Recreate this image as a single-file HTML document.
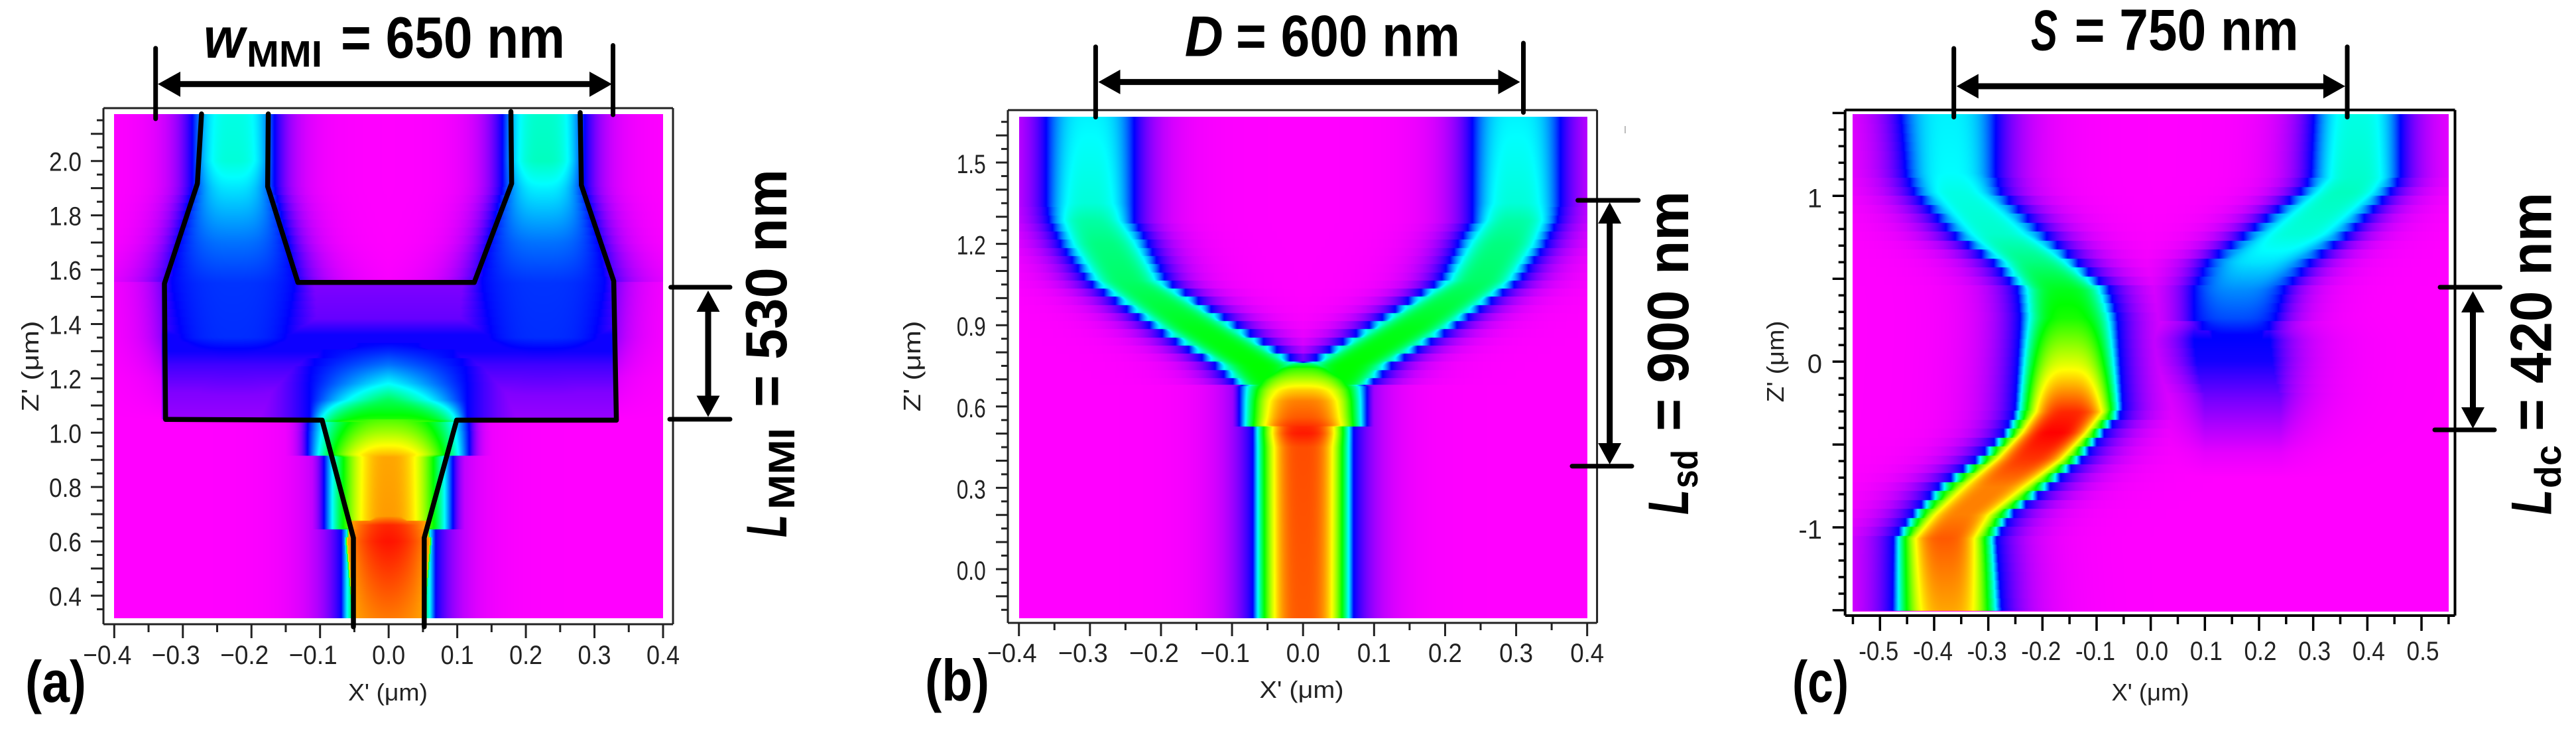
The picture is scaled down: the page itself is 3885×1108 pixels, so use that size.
<!DOCTYPE html>
<html lang="en">
<head>
<meta charset="utf-8">
<title>Waveguide field intensity maps</title>
<style>
html,body{margin:0;padding:0;background:#fff;}
#stage{position:relative;width:3885px;height:1108px;overflow:hidden;background:#fff;}
canvas{position:absolute;display:block;}
svg{position:absolute;left:0;top:0;}
text{font-family:"Liberation Sans",sans-serif;}
.big{font-weight:700;font-size:88px;fill:#000;}
.bigi{font-weight:700;font-style:italic;font-size:86px;fill:#000;}
.sub{font-weight:700;font-size:56px;fill:#000;}
.tick{font-size:40px;fill:#222;}
.title{font-size:36px;fill:#222;}
.dim{stroke:#000;stroke-width:7;stroke-linecap:round;fill:none;}
.shaft{stroke:#000;stroke-width:9;fill:none;}
</style>
</head>
<body>
<div id="stage">
<canvas id="heatmap-a"></canvas>
<canvas id="heatmap-b"></canvas>
<canvas id="heatmap-c"></canvas>
<svg id="overlay" width="3885" height="1108" viewBox="0 0 3885 1108">
  <g id="axes"></g>
  <g id="outline"></g>

  <g>
    <text x="307" y="87" class="bigi" textLength="62" lengthAdjust="spacingAndGlyphs">w</text>
    <text x="372" y="100.7" class="sub" textLength="114" lengthAdjust="spacingAndGlyphs">MMI</text>
    <text x="514" y="87" class="big" textLength="338" lengthAdjust="spacingAndGlyphs">= 650 nm</text>
    <line class="dim" x1="234.7" y1="72.7" x2="234.7" y2="179"/>
    <line class="dim" x1="924.5" y1="68.5" x2="924.5" y2="173"/>
    <line class="shaft" x1="268" y1="126.7" x2="893" y2="126.7"/>
    <polygon points="238,126.7 272,108 272,146"/>
    <polygon points="923,126.7 889,108 889,146"/>
  </g>
  <g>
    <line class="dim" x1="1011.6" y1="433" x2="1101" y2="433"/>
    <line class="dim" x1="1010" y1="632" x2="1101" y2="632"/>
    <line class="shaft" x1="1068" y1="465" x2="1068" y2="600"/>
    <polygon points="1068,438 1050.5,470 1085.5,470"/>
    <polygon points="1068,628.5 1050.5,596.5 1085.5,596.5"/>
    <text transform="translate(1186,810) rotate(-90)" class="bigi" textLength="34" lengthAdjust="spacingAndGlyphs">L</text>
    <text transform="translate(1198,768) rotate(-90)" class="sub" textLength="123" lengthAdjust="spacingAndGlyphs">MMI</text>
    <text transform="translate(1186,614) rotate(-90)" class="big" textLength="359" lengthAdjust="spacingAndGlyphs">= 530 nm</text>
  </g>
  <text x="38" y="1058" class="big" textLength="92" lengthAdjust="spacingAndGlyphs">(a)</text>

  <g>
    <text x="1786.7" y="84.7" class="bigi" textLength="58" lengthAdjust="spacingAndGlyphs">D</text>
    <text x="1864" y="84.7" class="big" textLength="338" lengthAdjust="spacingAndGlyphs">= 600 nm</text>
    <line class="dim" x1="1652.4" y1="70.6" x2="1652.4" y2="176.5"/>
    <line class="dim" x1="2297.5" y1="65" x2="2297.5" y2="169.5"/>
    <line class="shaft" x1="1685" y1="123.6" x2="2264" y2="123.6"/>
    <polygon points="1656.5,123.6 1689.5,105 1689.5,142"/>
    <polygon points="2292.5,123.6 2259.5,105 2259.5,142"/>
  </g>
  <g>
    <line class="dim" x1="2379.6" y1="302" x2="2470.8" y2="302"/>
    <line class="dim" x1="2371" y1="702.7" x2="2461" y2="702.7"/>
    <line class="shaft" x1="2427.7" y1="332" x2="2427.7" y2="672"/>
    <polygon points="2427.7,305 2410.2,337 2445.2,337"/>
    <polygon points="2427.7,700 2410.2,668 2445.2,668"/>
    <text transform="translate(2546,776) rotate(-90)" class="bigi" textLength="38" lengthAdjust="spacingAndGlyphs">L</text>
    <text transform="translate(2560,736) rotate(-90)" class="sub" textLength="58" lengthAdjust="spacingAndGlyphs">sd</text>
    <text transform="translate(2546,650) rotate(-90)" class="big" textLength="362" lengthAdjust="spacingAndGlyphs">= 900 nm</text>
  </g>
  <text x="1395" y="1056" class="big" textLength="97" lengthAdjust="spacingAndGlyphs">(b)</text>
  <line x1="2451" y1="190" x2="2451" y2="201" stroke="#bbb" stroke-width="2"/>

  <g>
    <text x="3063" y="75.6" class="bigi" textLength="40" lengthAdjust="spacingAndGlyphs">S</text>
    <text x="3128.7" y="75.6" class="big" textLength="338" lengthAdjust="spacingAndGlyphs">= 750 nm</text>
    <line class="dim" x1="2946.7" y1="73" x2="2946.7" y2="176.5"/>
    <line class="dim" x1="3540" y1="70.6" x2="3540" y2="176.5"/>
    <line class="shaft" x1="2980" y1="130" x2="3508" y2="130"/>
    <polygon points="2950.8,130 2983.8,111.5 2983.8,148.5"/>
    <polygon points="3536.9,130 3503.9,111.5 3503.9,148.5"/>
  </g>
  <g>
    <line class="dim" x1="3680" y1="433" x2="3770.5" y2="433"/>
    <line class="dim" x1="3672" y1="648" x2="3762" y2="648"/>
    <line class="shaft" x1="3729.5" y1="466" x2="3729.5" y2="618"/>
    <polygon points="3729.5,439 3712,471 3747,471"/>
    <polygon points="3729.5,646 3712,614 3747,614"/>
    <text transform="translate(3847.5,776) rotate(-90)" class="bigi" textLength="38" lengthAdjust="spacingAndGlyphs">L</text>
    <text transform="translate(3862,736) rotate(-90)" class="sub" textLength="65" lengthAdjust="spacingAndGlyphs">dc</text>
    <text transform="translate(3847.5,650) rotate(-90)" class="big" textLength="360" lengthAdjust="spacingAndGlyphs">= 420 nm</text>
  </g>
  <text x="2703" y="1058" class="big" textLength="85" lengthAdjust="spacingAndGlyphs">(c)</text>
</svg>
</div>

<script>
// ---------- Tick labels ----------
const aXTickValues = [-0.4, -0.3, -0.2, -0.1, 0.0, 0.1, 0.2, 0.3, 0.4];
const aXTickLabels = ['−0.4', '−0.3', '−0.2', '−0.1', '0.0', '0.1', '0.2', '0.3', '0.4'];
const aZTickValues = [0.4, 0.6, 0.8, 1.0, 1.2, 1.4, 1.6, 1.8, 2.0];
const aZTickLabels = ['0.4', '0.6', '0.8', '1.0', '1.2', '1.4', '1.6', '1.8', '2.0'];
const bXTickValues = [-0.4, -0.3, -0.2, -0.1, 0.0, 0.1, 0.2, 0.3, 0.4];
const bXTickLabels = ['−0.4', '−0.3', '−0.2', '−0.1', '0.0', '0.1', '0.2', '0.3', '0.4'];
const bZTickValues = [0.0, 0.3, 0.6, 0.9, 1.2, 1.5];
const bZTickLabels = ['0.0', '0.3', '0.6', '0.9', '1.2', '1.5'];
const cXTickValues = [-0.5, -0.4, -0.3, -0.2, -0.1, 0.0, 0.1, 0.2, 0.3, 0.4, 0.5];
const cXTickLabels = ['-0.5', '-0.4', '-0.3', '-0.2', '-0.1', '0.0', '0.1', '0.2', '0.3', '0.4', '0.5'];
const cZTickValues = [-1, 0, 1];
const cZTickLabels = ['-1', '0', '1'];

// ---------- Colour scale (normalised intensity) ----------
const scaleStops = [0, 0.2, 0.4, 0.6, 0.8, 1];
const scaleReds = [255, 0, 0, 0, 255, 255];
const scaleGreens = [0, 0, 255, 255, 255, 0];
const scaleBlues = [255, 255, 255, 0, 0, 0];

// ---------- Panel (a): MMI splitter field ----------
const aInputZ = [0.3, 0.645, 0.65, 0.91, 0.92, 1.0, 1.05];
const aInputHalf = [0.069, 0.069, 0.094, 0.094, 0.118, 0.118, 0.117];
const aInputPeak = [0.89, 0.88, 0.88, 0.87, 0.85, 0.73, 0.66];
const aHotZ = [0.3, 0.6, 0.66, 0.69];
const aHotHalf = [0.05, 0.06, 0.055, 0.02];
const aHotPeak = [0.9, 0.985, 0.97, 0.89];
const aHotEdge = [0.87, 0.87, 0.87, 0.87];
const aTailZ = [0.3, 1.05];
const aTailHalf = [0.068, 0.068];
const aCapZ = [1.04, 1.05, 1.12, 1.18, 1.25, 1.3, 1.33];
const aCapHalf = [0.115, 0.115, 0.115, 0.115, 0.112, 0.09, 0.02];
const aCapPeak = [0.66, 0.62, 0.53, 0.4, 0.29, 0.23, 0.2];
const aCapSharpness = [5, 4, 1.4, 1.2, 1.2, 1.2, 1.2];
const aFloorZ = [1.05, 1.15, 1.25, 1.3, 1.36, 1.42, 1.55];
const aFloorLevel = [0.08, 0.1, 0.15, 0.19, 0.19, 0.12, 0.1];
const aArmZ = [1.1, 1.25, 1.35, 1.55, 1.7, 1.9, 2.0, 2.18];
const aArmHalf = [0.05, 0.06, 0.075, 0.09, 0.08, 0.06, 0.06, 0.06];
const aArmEdge = [0.08, 0.14, 0.2, 0.2, 0.2, 0.2, 0.2, 0.2];
const aArmTail = [0.1, 0.1, 0.1, 0.04, 0.028, 0.025, 0.025, 0.025];
const aLeftArmPeak = [0.08, 0.15, 0.235, 0.24, 0.29, 0.38, 0.43, 0.42];
const aRightArmPeak = [0.08, 0.15, 0.235, 0.24, 0.29, 0.39, 0.45, 0.44];
const aArmOffset = 0.226;
const aBodyHalf = 0.33;
const aBodyZ = [1.04, 1.555];
const aLeakZ = [1.05, 1.2, 1.35, 1.55];
const aLeakLevel = [0, 0.03, 0.09, 0.11];

// Panel (a): drawn waveguide outline (micrometres)
const aOutlineLeftX = [-0.2728, -0.2788, -0.3268, -0.3252, -0.0970, -0.0514, -0.0514];
const aOutlineLeftZ = [2.173, 1.917, 1.549, 1.049, 1.046, 0.613, 0.2855];
const aOutlineMiddleX = [-0.1755, -0.1763, -0.1323, 0.1247, 0.1792, 0.1782];
const aOutlineMiddleZ = [2.173, 1.906, 1.553, 1.553, 1.917, 2.182];
const aOutlineRightX = [0.2792, 0.2809, 0.3281, 0.3320, 0.0991, 0.0519, 0.0519];
const aOutlineRightZ = [2.178, 1.911, 1.558, 1.046, 1.046, 0.613, 0.2855];

// ---------- Panel (b): S-bend Y-branch field ----------
const bStemZ = [-0.2, 0.45, 0.5, 0.525, 0.53, 0.56, 0.62, 0.66, 0.7, 0.74, 0.76];
const bStemHalf = [0.071, 0.071, 0.071, 0.071, 0.09, 0.09, 0.09, 0.09, 0.085, 0.06, 0.03];
const bStemPeak = [0.93, 0.94, 0.98, 0.97, 0.96, 0.93, 0.9, 0.84, 0.74, 0.64, 0.5];
const bTailZ = [-0.2, 0.72];
const bTailHalf = [0.071, 0.071];
const bArmZ = [0.68, 0.752, 0.89, 1.063, 1.2, 1.287, 1.35, 1.68];
const bArmCenter = [0.045, 0.063, 0.149, 0.248, 0.28, 0.298, 0.3, 0.3];
const bArmHalf = [0.05, 0.062, 0.062, 0.056, 0.062, 0.06, 0.062, 0.062];
const bArmPeak = [0.6, 0.6, 0.58, 0.52, 0.5, 0.47, 0.43, 0.39];

// ---------- Panel (c): directional coupler field ----------
const cLeftZ = [-1.506, -1.068, -0.927, -0.757, -0.588, -0.43, -0.305, -0.02, 0.26, 0.43, 0.6, 0.768, 1.02, 1.136, 1.494];
const cLeftCenter = [-0.3755, -0.3795, -0.349, -0.2887, -0.2234, -0.178, -0.1506, -0.1506, -0.1506, -0.1606, -0.2134, -0.281, -0.3564, -0.369, -0.3735];
const cLeftHalf = [0.101, 0.0954, 0.093, 0.103, 0.098, 0.093, 0.1, 0.095, 0.09, 0.085, 0.078, 0.085, 0.08, 0.083, 0.088];
const cLeftPeak = [0.87, 0.93, 0.9, 0.9, 0.96, 1, 0.97, 0.78, 0.62, 0.58, 0.5, 0.44, 0.42, 0.4, 0.39];
const cRightZ = [0.13, 0.16, 0.26, 0.43, 0.6, 0.768, 1.02, 1.107, 1.494];
const cRightCenter = [0.16, 0.16, 0.1556, 0.163, 0.2008, 0.271, 0.359, 0.379, 0.3815];
const cRightHalf = [0.01, 0.045, 0.075, 0.083, 0.095, 0.095, 0.083, 0.083, 0.08];
const cRightPeak = [0.2, 0.2, 0.26, 0.31, 0.38, 0.43, 0.45, 0.44, 0.42];
const cCloudZ = [-0.7, -0.55, -0.4, -0.22, -0.1, 0, 0.13, 0.2, 0.3, 0.4, 0.45];
const cCloudCenter = [0.17, 0.17, 0.17, 0.17, 0.16, 0.155, 0.15, 0.15, 0.16, 0.16, 0.16];
const cCloudHalf = [0.07, 0.07, 0.07, 0.07, 0.07, 0.07, 0.07, 0.07, 0.07, 0.07, 0.07];
const cCloudLevel = [0, 0.02, 0.06, 0.11, 0.15, 0.185, 0.2, 0.15, 0.08, 0.03, 0];

// ---------- Helpers ----------
const SVGNS = 'http://www.w3.org/2000/svg';
function interp(xs, ys, v) {
  if (v <= xs[0]) return ys[0];
  for (let i = 1; i < xs.length; i++) {
    if (v <= xs[i]) {
      const t = (v - xs[i - 1]) / ((xs[i] - xs[i - 1]) || 1);
      return ys[i - 1] + (ys[i] - ys[i - 1]) * t;
    }
  }
  return ys[ys.length - 1];
}
function linearScale(d0, d1, r0, r1) {
  const f = v => r0 + (v - d0) * (r1 - r0) / (d1 - d0);
  f.invert = p => d0 + (p - r0) * (d1 - d0) / (r1 - r0);
  return f;
}
function constant(arr, v) { return arr.map(() => v); }
function negate(arr) { return arr.map(v => -v); }
function ridge(z, c, h, p, e, k, decay) {
  return {
    z, c, h, p, e,
    k: Array.isArray(k) ? k : constant(z, k),
    decay: Array.isArray(decay) ? decay : constant(z, decay)
  };
}
function smooth(a, b, x) {
  const t = Math.max(0, Math.min(1, (x - a) / (b - a)));
  return t * t * (3 - 2 * t);
}

const panels = {
  a: {
    left: 172.3, right: 1000, top: 172, bottom: 932, step: 0.03,
    x: linearScale(-0.4, 0.4, 172.3, 1000),
    z: linearScale(0.4, 2.0, 898, 242.7),
    ridges: [
      ridge(aTailZ, constant(aTailZ, 0), aTailHalf, constant(aTailZ, 0.2), constant(aTailZ, 0.2), 3, 0.03),
      ridge(aInputZ, constant(aInputZ, 0), aInputHalf, aInputPeak, constant(aInputZ, 0.2), 2.5, 0.012),
      ridge(aHotZ, constant(aHotZ, 0), aHotHalf, aHotPeak, aHotEdge, 2, 0.004),
      ridge(aCapZ, constant(aCapZ, 0), aCapHalf, aCapPeak, constant(aCapZ, 0.2), aCapSharpness, 0.08),
      ridge(aFloorZ, constant(aFloorZ, 0), constant(aFloorZ, aBodyHalf), aFloorLevel, aFloorLevel, 3, 0.006),
      ridge(aArmZ, constant(aArmZ, -aArmOffset), aArmHalf, aLeftArmPeak, aArmEdge, 3, aArmTail),
      ridge(aArmZ, constant(aArmZ, aArmOffset), aArmHalf, aRightArmPeak, aArmEdge, 3, aArmTail)
    ],
    clip: (x, z) => {
      if (z > aBodyZ[0] && z < aBodyZ[1] && Math.abs(x) > aBodyHalf) {
        return interp(aLeakZ, aLeakLevel, z) * Math.exp(-(Math.abs(x) - aBodyHalf) / 0.03);
      }
      return -1;
    }
  },
  b: {
    left: 1536.7, right: 2393.7, top: 176, bottom: 931.5, step: 0.03,
    x: linearScale(-0.4, 0.4, 1536.7, 2393.7),
    z: linearScale(0, 1.5, 858, 245),
    ridges: [
      ridge(bTailZ, constant(bTailZ, 0), bTailHalf, constant(bTailZ, 0.2), constant(bTailZ, 0.2), 3, 0.03),
      ridge(bStemZ, constant(bStemZ, 0), bStemHalf, bStemPeak, constant(bStemZ, 0.2), 3, 0.01),
      ridge(bArmZ, negate(bArmCenter), bArmHalf, bArmPeak, constant(bArmZ, 0.2), 3, 0.03),
      ridge(bArmZ, bArmCenter, bArmHalf, bArmPeak, constant(bArmZ, 0.2), 3, 0.03)
    ],
    clip: () => -1
  },
  c: {
    left: 2794.3, right: 3693.4, top: 172.3, bottom: 922, step: 0.054,
    x: linearScale(-0.5, 0.5, 2835.3, 3652),
    z: linearScale(-1, 1, 795, 295.3),
    ridges: [
      ridge(cLeftZ, cLeftCenter, cLeftHalf, cLeftPeak, constant(cLeftZ, 0.2), 3, 0.045),
      ridge(cRightZ, cRightCenter, cRightHalf, cRightPeak, constant(cRightZ, 0.2), 3, 0.04),
      ridge(cCloudZ, cCloudCenter, cCloudHalf, cCloudLevel, cCloudLevel, 3, 0.05)
    ],
    clip: () => -1
  }
};

function paintHeatmap(id, panel) {
  const canvas = document.getElementById(id);
  const w = Math.round(panel.right - panel.left);
  const h = Math.round(panel.bottom - panel.top);
  canvas.width = w;
  canvas.height = h;
  canvas.style.left = panel.left + 'px';
  canvas.style.top = panel.top + 'px';
  const ctx = canvas.getContext('2d');
  const img = ctx.createImageData(w, h);
  const buf = img.data;
  for (let py = 0; py < h; py++) {
    const z = panel.z.invert(panel.top + py + 0.5);
    const zq = Math.round(z / panel.step) * panel.step;
    const rows = [];
    for (const r of panel.ridges) {
      if (z < r.z[0] || z > r.z[r.z.length - 1]) continue;
      rows.push({
        c: interp(r.z, r.c, z), h: interp(r.z, r.h, z),
        cq: interp(r.z, r.c, zq), hq: interp(r.z, r.h, zq),
        p: interp(r.z, r.p, z), e: interp(r.z, r.e, z),
        k: interp(r.z, r.k, z), decay: interp(r.z, r.decay, z)
      });
    }
    for (let px = 0; px < w; px++) {
      const x = panel.x.invert(panel.left + px + 0.5);
      let v = panel.clip(x, z);
      if (v < 0) {
        v = 0;
        for (const r of rows) {
          const d = Math.abs(x - r.c);
          const s = smooth(0.6, 0.9, d / r.h);
          const du = (1 - s) * d + s * Math.abs(x - r.cq);
          const hu = (1 - s) * r.h + s * r.hq;
          const t = du / hu;
          const u = t < 1 ? r.e + (r.p - r.e) * (1 - Math.pow(t, r.k)) : r.e * Math.exp(-(du - hu) / r.decay);
          if (u > v) v = u;
        }
      }
      const i = (py * w + px) * 4;
      buf[i] = interp(scaleStops, scaleReds, v);
      buf[i + 1] = interp(scaleStops, scaleGreens, v);
      buf[i + 2] = interp(scaleStops, scaleBlues, v);
      buf[i + 3] = 255;
    }
  }
  ctx.putImageData(img, 0, 0);
}

const axesGroup = document.getElementById('axes');
const outlineGroup = document.getElementById('outline');

function addLine(x1, y1, x2, y2, color, width, name) {
  const el = document.createElementNS(SVGNS, 'line');
  el.setAttribute('x1', x1);
  el.setAttribute('y1', y1);
  el.setAttribute('x2', x2);
  el.setAttribute('y2', y2);
  el.setAttribute('stroke', color);
  el.setAttribute('stroke-width', width);
  
  
  axesGroup.appendChild(el);
}
function addText(str, x, y, cls, anchor, len, transform, name) {
  const el = document.createElementNS(SVGNS, 'text');
  el.setAttribute('class', cls);
  if (transform) {
    el.setAttribute('transform', transform);
  } else {
    el.setAttribute('x', x);
    el.setAttribute('y', y);
  }
  el.setAttribute('text-anchor', anchor);
  if (len) {
    el.setAttribute('textLength', len);
    el.setAttribute('lengthAdjust', 'spacingAndGlyphs');
  }
  el.textContent = str;
  
  
  axesGroup.appendChild(el);
}

function drawAxes(key, cfg) {
  const p = panels[key];
  const f = cfg.frame;
  const col = cfg.color;
  const sw = cfg.stroke;
  addLine(f.l, f.t, f.r, f.t, col, sw, 'frame-top-' + key);
  addLine(f.r, f.t, f.r, f.b, col, sw, 'frame-right-' + key);
  addLine(f.l, f.b, f.r, f.b, col, sw, 'frame-bottom-' + key);
  addLine(f.l, f.t, f.l, f.b, col, sw, 'frame-left-' + key);
  const xN = Math.round((cfg.xMax - cfg.xMin) / cfg.xStep);
  for (let i = 0; i <= xN; i++) {
    const v = cfg.xMin + i * cfg.xStep;
    const major = Math.abs(v / cfg.xMajor - Math.round(v / cfg.xMajor)) < 1e-6;
    addLine(p.x(v), f.b, p.x(v), f.b + (major ? cfg.xLong : cfg.xShort), col, cfg.tick, 'x-tick-' + key);
  }
  const zN = Math.round((cfg.zMax - cfg.zMin) / cfg.zStep);
  for (let i = 0; i <= zN; i++) {
    const v = cfg.zMin + i * cfg.zStep;
    const major = Math.abs(v / cfg.zMajor - Math.round(v / cfg.zMajor)) < 1e-6;
    addLine(f.l - (major ? cfg.zLong : cfg.zShort), p.z(v), f.l, p.z(v), col, cfg.tick, 'y-tick-' + key);
  }
  cfg.xValues.forEach((v, i) => {
    const neg = v < 0;
    const cx = p.x(v) + (neg ? cfg.negShift : cfg.posShift);
    addText(cfg.xLabels[i], cx, cfg.xBase, 'tick', 'middle', neg ? cfg.negLen : cfg.posLen, null, 'x-tick-label-' + key);
  });
  cfg.zValues.forEach((v, i) => {
    addText(cfg.zLabels[i], cfg.zRight, p.z(v) + cfg.zShift, 'tick', 'end', cfg.zLen ? cfg.zLen : 0, null, 'y-tick-label-' + key);
  });
  addText("X' (μm)", cfg.xTitleX, cfg.xTitleY, 'title', 'middle', cfg.xTitleLen, null, 'x-axis-title-' + key);
  addText("Z' (μm)", 0, 0, 'title', 'middle', cfg.zTitleLen,
    'translate(' + cfg.zTitleX + ',' + cfg.zTitleY + ') rotate(-90)', 'y-axis-title-' + key);
}

function drawOutline(xs, zs, name) {
  const p = panels.a;
  const el = document.createElementNS(SVGNS, 'polyline');
  el.setAttribute('points', xs.map((x, i) => p.x(x).toFixed(1) + ',' + p.z(zs[i]).toFixed(1)).join(' '));
  el.setAttribute('fill', 'none');
  el.setAttribute('stroke', '#000');
  el.setAttribute('stroke-width', '7.5');
  el.setAttribute('stroke-linecap', 'round');
  el.setAttribute('stroke-linejoin', 'round');
  
  
  outlineGroup.appendChild(el);
}

paintHeatmap('heatmap-a', panels.a);
paintHeatmap('heatmap-b', panels.b);
paintHeatmap('heatmap-c', panels.c);

drawAxes('a', {
  frame: { l: 156, r: 1015, t: 163, b: 941 }, color: '#222', stroke: 3, tick: 3,
  xMin: -0.4, xMax: 0.4, xStep: 0.05, xMajor: 0.1, xLong: 21, xShort: 12,
  zMin: 0.35, zMax: 2.15, zStep: 0.05, zMajor: 0.1, zLong: 19, zShort: 10,
  xValues: aXTickValues, xLabels: aXTickLabels, zValues: aZTickValues, zLabels: aZTickLabels,
  negShift: -10.5, posShift: 0, negLen: 73, posLen: 50, xBase: 1001,
  zRight: 123, zShift: 15, zLen: 49,
  xTitleX: 585, xTitleY: 1056, xTitleLen: 120, zTitleX: 58, zTitleY: 552, zTitleLen: 137
});
drawAxes('b', {
  frame: { l: 1520, r: 2408.6, t: 166, b: 939 }, color: '#222', stroke: 3, tick: 3,
  xMin: -0.4, xMax: 0.4, xStep: 0.05, xMajor: 0.1, xLong: 20, xShort: 11,
  zMin: -0.15, zMax: 1.65, zStep: 0.05, zMajor: 0.1, zLong: 18, zShort: 10,
  xValues: bXTickValues, xLabels: bXTickLabels, zValues: bZTickValues, zLabels: bZTickLabels,
  negShift: -10.5, posShift: 0, negLen: 75, posLen: 51, xBase: 998,
  zRight: 1486.7, zShift: 16, zLen: 44,
  xTitleX: 1963, xTitleY: 1052, xTitleLen: 127, zTitleX: 1388, zTitleY: 552, zTitleLen: 137
});
drawAxes('c', {
  frame: { l: 2782.7, r: 3702.5, t: 165.7, b: 928 }, color: '#000', stroke: 4, tick: 3.5,
  xMin: -0.55, xMax: 0.55, xStep: 0.05, xMajor: 0.1, xLong: 23, xShort: 13,
  zMin: -1.5, zMax: 1.5, zStep: 0.1, zMajor: 0.5, zLong: 19, zShort: 10,
  xValues: cXTickValues, xLabels: cXTickLabels, zValues: cZTickValues, zLabels: cZTickLabels,
  negShift: -2, posShift: 2, negLen: 60, posLen: 49, xBase: 995,
  zRight: 2748, zShift: 17, zLen: 0,
  xTitleX: 3243, xTitleY: 1056, xTitleLen: 117, zTitleX: 2690, zTitleY: 545, zTitleLen: 123
});

drawOutline(aOutlineLeftX, aOutlineLeftZ, 'outline-left-edge');
drawOutline(aOutlineMiddleX, aOutlineMiddleZ, 'outline-middle-edge');
drawOutline(aOutlineRightX, aOutlineRightZ, 'outline-right-edge');
</script>
</body>
</html>
